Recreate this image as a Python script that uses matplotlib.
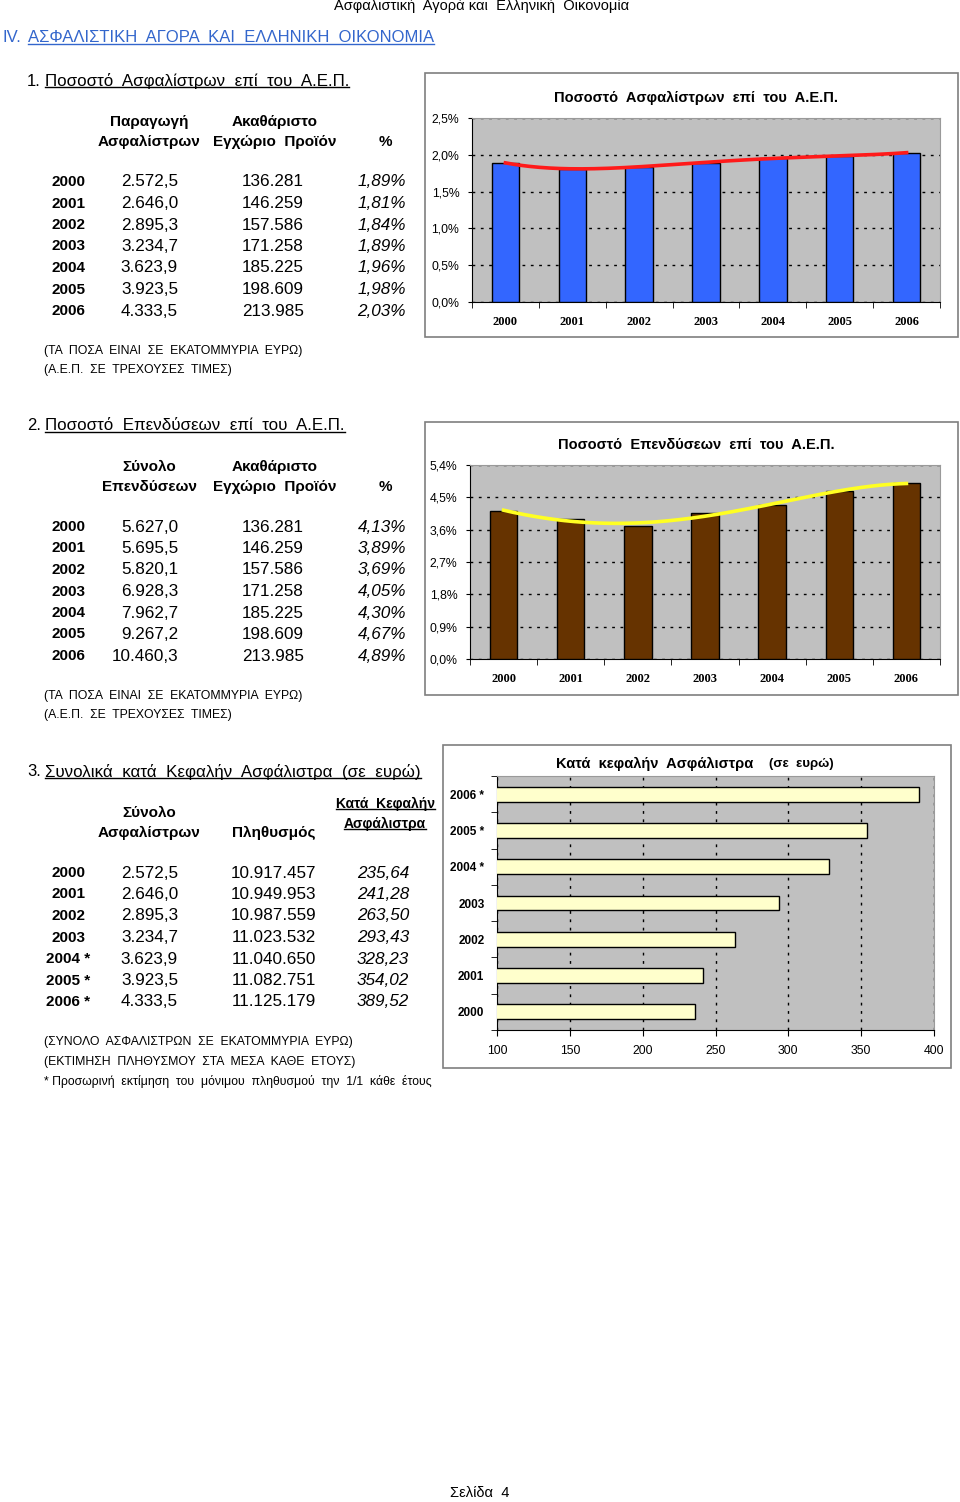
import numpy as np
import matplotlib
matplotlib.use("Agg")
import matplotlib.pyplot as plt
from matplotlib.lines import Line2D
from matplotlib.patches import Rectangle

# page data
years = ["2000", "2001", "2002", "2003", "2004", "2005", "2006"]
years_est = ["2000", "2001", "2002", "2003", "2004 *", "2005 *", "2006 *"]
premiums = [2572.5, 2646.0, 2895.3, 3234.7, 3623.9, 3923.5, 4333.5]
gdp = [136281, 146259, 157586, 171258, 185225, 198609, 213985]
prem_pct = [1.89, 1.81, 1.84, 1.89, 1.96, 1.98, 2.03]
investments = [5627.0, 5695.5, 5820.1, 6928.3, 7962.7, 9267.2, 10460.3]
inv_pct = [4.13, 3.89, 3.69, 4.05, 4.30, 4.67, 4.89]
population = [10917457, 10949953, 10987559, 11023532, 11040650, 11082751, 11125179]
per_capita = [235.64, 241.28, 263.50, 293.43, 328.23, 354.02, 389.52]

pct_ticks1 = [0.0, 0.5, 1.0, 1.5, 2.0, 2.5]
pct_ticks2 = [0.0, 0.9, 1.8, 2.7, 3.6, 4.5, 5.4]
eur_ticks = [100, 150, 200, 250, 300, 350, 400]

plt.rcParams["font.family"] = ["Liberation Sans", "DejaVu Sans"]

W, H = 960, 1502
fig = plt.figure(figsize=(W / 100, H / 100), dpi=100)
fig.patch.set_facecolor("white")


def gr(v, dec):
    # greek number format: dot thousands, comma decimals
    s = f"{v:,.{dec}f}"
    return s.replace(",", "X").replace(".", ",").replace("X", ".")


def txt(x, y, s, **kw):
    kw.setdefault("va", "center")
    kw.setdefault("color", "black")
    return fig.text(x / W, 1 - y / H, s, **kw)


underlined = []


def utxt(x, y, s, **kw):
    t = txt(x, y, s, **kw)
    underlined.append(t)
    return t


def axrect(l, t, r, b):
    return [l / W, 1 - b / H, (r - l) / W, (b - t) / H]


def frame(l, t, r, b):
    fig.add_artist(Rectangle((l / W, 1 - b / H), (r - l) / W, (b - t) / H,
                             transform=fig.transFigure, fill=False,
                             edgecolor="#7f7f7f", linewidth=1.2))


# header
txt(482, 6, "Ασφαλιστική  Αγορά και  Ελληνική  Οικονομία", fontsize=10.5, ha="center")
txt(2, 38, "IV.", fontsize=12, color="#3366cc")
utxt(28, 38, "ΑΣΦΑΛΙΣΤΙΚΗ  ΑΓΟΡΑ  ΚΑΙ  ΕΛΛΗΝΙΚΗ  ΟΙΚΟΝΟΜΙΑ", fontsize=12, color="#3366cc")


def table(top, title, h1, h2, col1, col2, col3, ylabels, fmt1, fmt2, fmt3, notes, h3=None):
    txt(27, top, title[0], fontsize=12)
    utxt(45, top, title[1], fontsize=12.2)
    for (cx, lines) in h1:
        for k, ln in enumerate(lines):
            if ln:
                txt(cx, top + 41 + 20 * k, ln, fontsize=11, fontweight="bold", ha="center")
    if h3 is not None:
        for k, ln in enumerate(h3[1]):
            utxt(h3[0], top + 32 + 20 * k, ln, fontsize=10, fontweight="bold", ha="center")
    for i in range(len(ylabels)):
        y = top + 101 + 21.5 * i
        txt(51 if "*" not in ylabels[i] else 46, y, ylabels[i], fontsize=11, fontweight="bold")
        txt(h2[0], y, fmt1(col1[i]), fontsize=12.3, ha="right")
        txt(h2[1], y, fmt2(col2[i]), fontsize=12.3, ha="right")
        txt(h2[2], y, fmt3(col3[i]), fontsize=12.3, ha="right", style="italic")
    for k, n in enumerate(notes):
        txt(44, top + 270 + 19.5 * k, n, fontsize=8.8)


table(81, ("1.", "Ποσοστό  Ασφαλίστρων  επί  του  Α.Ε.Π."),
      [(149, ["Παραγωγή", "Ασφαλίστρων"]), (275, ["Ακαθάριστο", "Εγχώριο  Προϊόν"]), (385, ["", "%"])],
      (178, 304, 406), premiums, gdp, prem_pct, years,
      lambda v: gr(v, 1), lambda v: gr(v, 0), lambda v: gr(v, 2) + "%",
      ["(ΤΑ  ΠΟΣΑ  ΕΙΝΑΙ  ΣΕ  ΕΚΑΤΟΜΜΥΡΙΑ  ΕΥΡΩ)", "(Α.Ε.Π.  ΣΕ  ΤΡΕΧΟΥΣΕΣ  ΤΙΜΕΣ)"])

table(426, ("2.", "Ποσοστό  Επενδύσεων  επί  του  Α.Ε.Π."),
      [(149, ["Σύνολο", "Επενδύσεων"]), (275, ["Ακαθάριστο", "Εγχώριο  Προϊόν"]), (385, ["", "%"])],
      (178, 304, 406), investments, gdp, inv_pct, years,
      lambda v: gr(v, 1), lambda v: gr(v, 0), lambda v: gr(v, 2) + "%",
      ["(ΤΑ  ΠΟΣΑ  ΕΙΝΑΙ  ΣΕ  ΕΚΑΤΟΜΜΥΡΙΑ  ΕΥΡΩ)", "(Α.Ε.Π.  ΣΕ  ΤΡΕΧΟΥΣΕΣ  ΤΙΜΕΣ)"])

table(772, ("3.", "Συνολικά  κατά  Κεφαλήν  Ασφάλιστρα  (σε  ευρώ)"),
      [(149, ["Σύνολο", "Ασφαλίστρων"]), (274, ["", "Πληθυσμός"])],
      (178, 316, 409), premiums, population, per_capita, years_est,
      lambda v: gr(v, 1), lambda v: gr(v, 0), lambda v: gr(v, 2),
      ["(ΣΥΝΟΛΟ  ΑΣΦΑΛΙΣΤΡΩΝ  ΣΕ  ΕΚΑΤΟΜΜΥΡΙΑ  ΕΥΡΩ)", "(ΕΚΤΙΜΗΣΗ  ΠΛΗΘΥΣΜΟΥ  ΣΤΑ  ΜΕΣΑ  ΚΑΘΕ  ΕΤΟΥΣ)",
       "* Προσωρινή  εκτίμηση  του  μόνιμου  πληθυσμού  την  1/1  κάθε  έτους"],
      h3=(385, ["Κατά  Κεφαλήν", "Ασφάλιστρα"]))

txt(480, 1493, "Σελίδα  4", fontsize=10.5, ha="center")


def style_axes(ax):
    ax.set_facecolor("#c0c0c0")
    for s in ("top", "right"):
        ax.spines[s].set_color("#9a9a9a")
    for s in ("left", "bottom"):
        ax.spines[s].set_color("black")


def vbar_chart(rect, frame_box, title, values, color, line_color, ticks):
    frame(*frame_box)
    ax = fig.add_axes(axrect(*rect))
    style_axes(ax)
    x = np.arange(len(years))
    ax.bar(x, values, width=0.41, color=color, edgecolor="black", linewidth=1, zorder=3)
    # polynomial trendline through the bar values
    coef = np.polyfit(x, values, 4)
    xs = np.linspace(x[0], x[-1], 200)
    ax.plot(xs, np.polyval(coef, xs), color=line_color, linewidth=2.6, zorder=4)
    ax.set_xlim(-0.5, len(years) - 0.5)
    ax.set_ylim(ticks[0], ticks[-1])
    ax.set_yticks(ticks)
    ax.set_yticklabels([f"{t:.1f}%".replace(".", ",") for t in ticks], fontsize=8.8)
    ax.yaxis.grid(True, linestyle=(0, (2, 4)), color="black", linewidth=1, zorder=1)
    ax.set_xticks(x)
    ax.set_xticklabels(years, fontsize=9, fontweight="bold", family="Liberation Serif")
    ax.set_xticks(np.arange(-0.5, len(years)), minor=True)
    ax.tick_params(axis="x", which="major", length=0, pad=10)
    ax.tick_params(axis="x", which="minor", length=4, direction="out")
    ax.tick_params(axis="y", length=3, pad=6)
    cx = (frame_box[0] + frame_box[2]) / 2 + 5
    txt(cx, rect[1] - 20, title, fontsize=10.5, fontweight="bold", ha="center")
    return ax


vbar_chart((472, 118, 940, 302), (425, 73, 958, 337),
           "Ποσοστό  Ασφαλίστρων  επί  του  Α.Ε.Π.", prem_pct, "#3366ff", "#ff1a1a", pct_ticks1)
vbar_chart((470, 465, 940, 659), (425, 422, 958, 695),
           "Ποσοστό  Επενδύσεων  επί  του  Α.Ε.Π.", inv_pct, "#663300", "#ffff22", pct_ticks2)

# per capita horizontal bars
frame(443, 745, 951, 1068)
ax3 = fig.add_axes(axrect(497, 776, 934, 1030))
style_axes(ax3)
yy = np.arange(len(years_est))
ax3.barh(yy, per_capita, height=0.41, color="#ffffcc", edgecolor="black", linewidth=1, zorder=3)
ax3.set_xlim(eur_ticks[0], eur_ticks[-1])
ax3.set_ylim(-0.5, len(years_est) - 0.5)
ax3.set_xticks(eur_ticks)
ax3.set_xticklabels([str(t) for t in eur_ticks], fontsize=8.8)
ax3.xaxis.grid(True, linestyle=(0, (2, 4)), color="black", linewidth=1, zorder=1)
ax3.set_yticks(yy)
ax3.set_yticklabels(years_est, fontsize=8.5, fontweight="bold")
ax3.set_yticks(np.arange(-0.5, len(years_est)), minor=True)
ax3.tick_params(axis="y", which="major", length=0, pad=9)
ax3.tick_params(axis="y", which="minor", length=4)
ax3.tick_params(axis="x", length=4, pad=7)
txt(556, 764, "Κατά  κεφαλήν  Ασφάλιστρα", fontsize=10.5, fontweight="bold")
txt(769, 764, "(σε  ευρώ)", fontsize=9.5, fontweight="bold")

# underlines from rendered text extents
fig.canvas.draw()
r = fig.canvas.get_renderer()
for t in underlined:
    bb = t.get_window_extent(r)
    yb = bb.y0 + bb.height * 0.12
    fig.add_artist(Line2D([bb.x0 / W, bb.x1 / W], [yb / H, yb / H], transform=fig.transFigure,
                          color=t.get_color(), linewidth=1))

fig.savefig("out.png", dpi=100)
